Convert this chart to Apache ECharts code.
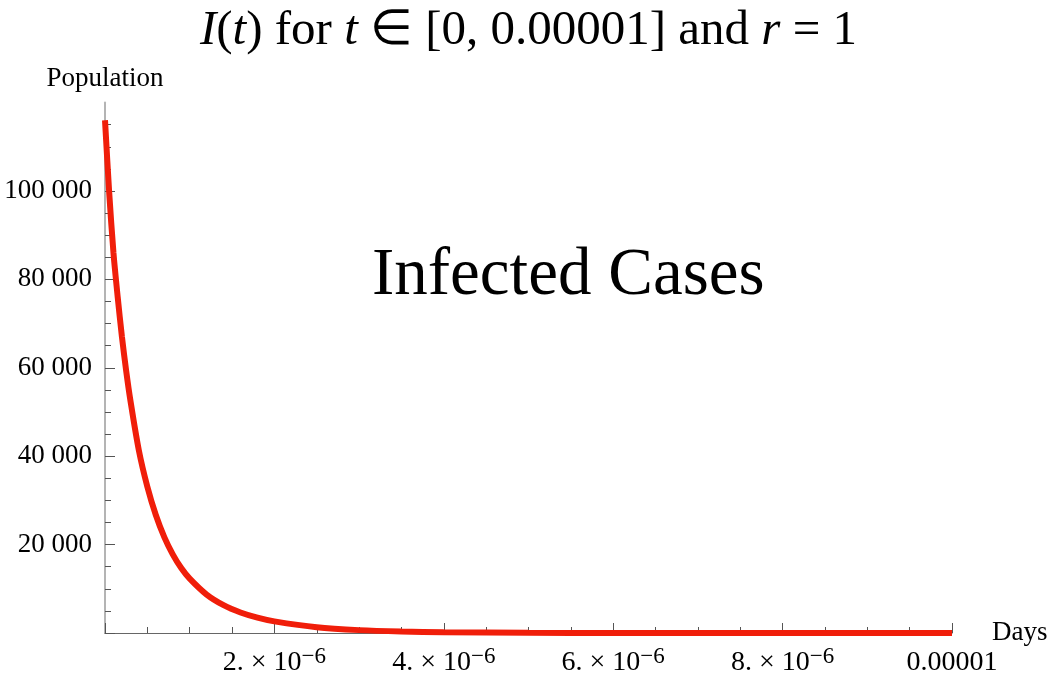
<!DOCTYPE html>
<html>
<head>
<meta charset="utf-8">
<script src="https://cdn.jsdelivr.net/npm/echarts@6/dist/echarts.min.js"></script>
<style>
  html, body { margin: 0; padding: 0; background: #fff; }
  #chart { width: 1057px; height: 684px; }
</style>
</head>
<body>
<div id="chart"></div>
<script>
// time in days
const days = [0, 0.05e-6, 0.1e-6, 0.15e-6, 0.2e-6, 0.25e-6, 0.3e-6, 0.4e-6, 0.5e-6, 0.6e-6,
  0.7e-6, 0.8e-6, 0.9e-6, 1.0e-6, 1.2e-6, 1.4e-6, 1.6e-6, 1.8e-6, 2.0e-6, 2.5e-6,
  3.0e-6, 3.5e-6, 4.0e-6, 5.0e-6, 6.0e-6, 7.0e-6, 8.0e-6, 9.0e-6, 10.0e-6];
// infected population I(t)
const infected = [116000, 99500, 86000, 76000, 67000, 59300, 52600, 41300, 33100, 26700,
  21700, 17800, 14700, 12300, 8700, 6300, 4650, 3480, 2630, 1300,
  650, 330, 170, 50, 15, 5, 2, 1, 0];
const xLabelTicks = [2e-6, 4e-6, 6e-6, 8e-6, 1e-5];
const yLabelTicks = [20000, 40000, 60000, 80000, 100000];
const yMajorTicks = [0, 20000, 40000, 60000, 80000, 100000];

const serif = "Liberation Serif";
const chart = echarts.init(document.getElementById("chart"));

function fmtY(v) {
  return String(v).replace(/\B(?=(\d{3})+(?!\d))/g, " ");
}

function fmtX(v) {
  if (Math.abs(v - 1e-5) < 1e-12) return "{a|0.00001}";
  const m = Math.round(v * 1e6);
  return "{a|" + m + ". × 10}{s|−6}";
}

const option = {
  animation: false,
  title: {
    text: "{i|I}({i|t}) for {i|t} ∈ [0, 0.00001] and {i|r} = 1",
    left: "center",
    top: 2,
    textStyle: {
      fontFamily: serif,
      fontSize: 49,
      fontWeight: "normal",
      color: "#000",
      rich: {
        i: { fontFamily: serif, fontSize: 49, fontStyle: "italic", color: "#000" },
      },
    },
  },
  graphic: [
    {
      type: "text",
      left: 372,
      top: 243,
      style: {
        text: "Infected Cases",
        font: "67px 'Liberation Serif'",
        fill: "#000",
      },
    },
  ],
  grid: {
    left: 105,
    right: 105,
    top: 102.6,
    bottom: 51,
    containLabel: false,
  },
  xAxis: {
    type: "value",
    min: 0,
    max: 1e-5,
    interval: 2e-6,
    name: "Days",
    nameLocation: "end",
    nameGap: 40,
    nameTextStyle: { fontFamily: serif, fontSize: 27, color: "#000", padding: [14, 0, 0, 0] },
    splitLine: { show: false },
    axisLine: { onZero: false, lineStyle: { color: "#666", width: 1 } },
    axisTick: { inside: true, length: 10, lineStyle: { color: "#555" } },
    minorTick: { show: true, splitNumber: 4, length: 6, lineStyle: { color: "#555" } },
    axisLabel: {
      customValues: xLabelTicks,
      margin: 12,
      formatter: fmtX,
      rich: {
        a: { fontFamily: serif, fontSize: 28, color: "#000", lineHeight: 32, verticalAlign: "bottom" },
        s: { fontFamily: serif, fontSize: 23, color: "#000", lineHeight: 20, verticalAlign: "top" },
      },
    },
  },
  yAxis: {
    type: "value",
    min: 0,
    max: 120000,
    interval: 20000,
    name: "Population",
    nameLocation: "end",
    nameGap: 10,
    nameTextStyle: { fontFamily: serif, fontSize: 27, color: "#000", align: "center" },
    splitLine: { show: false },
    axisLine: { onZero: false, lineStyle: { color: "#b4b4b4", width: 2 } },
    axisTick: { inside: true, length: 10, customValues: yMajorTicks, lineStyle: { color: "#555" } },
    minorTick: { show: true, splitNumber: 4, length: 6, lineStyle: { color: "#555" } },
    axisLabel: {
      customValues: yLabelTicks,
      margin: 13,
      fontFamily: serif,
      fontSize: 27,
      color: "#000",
      formatter: fmtY,
    },
  },
  series: [
    {
      type: "line",
      data: days.map((d, i) => [d, infected[i]]),
      showSymbol: false,
      smooth: 0.3,
      lineStyle: { color: "#f01e0a", width: 6 },
    },
  ],
};

chart.setOption(option);

window.addEventListener("resize", () => {
  chart.resize();
});
</script>
</body>
</html>
